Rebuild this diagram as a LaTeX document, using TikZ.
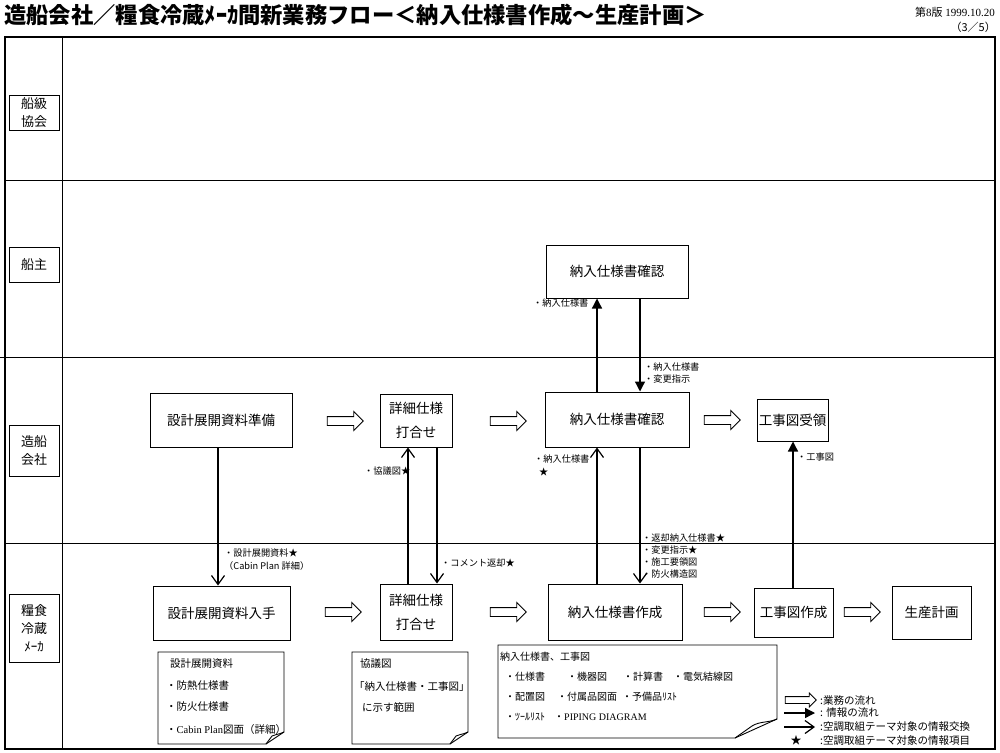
\documentclass[tikz,border=0pt]{standalone}
\usepackage{fontspec}
\setmainfont{Liberation Serif}
\newfontfamily\cjk{Noto Sans CJK JP}
\usetikzlibrary{arrows.meta,shapes.arrows,calc}
\tikzset{
  proc/.style={draw, line width=1pt, align=center, inner sep=0pt, font=\cjk\fontsize{13.5}{24}\selectfont},
  lanebox/.style={draw, line width=0.9pt, align=center, inner sep=0pt, minimum width=50pt, font=\cjk\fontsize{13}{18}\selectfont},
  flowarrow/.style={single arrow, draw, line width=0.9pt, inner xsep=0pt, inner ysep=4pt, minimum height=36pt, single arrow head extend=5pt, single arrow head indent=0pt},
  infoF/.style={line width=1.3pt, -{Triangle[length=10pt,width=10pt]}},
  infoV/.style={line width=1.2pt, -{Straight Barb[length=9pt,width=13pt,line width=1.2pt]}},
  lbl/.style={anchor=west, inner sep=0pt, font=\cjk\fontsize{9.2}{10}\selectfont},
  notetxt/.style={anchor=west, inner sep=0pt, font=\cjk\fontsize{10.5}{12}\selectfont},
  notetxtb/.style={anchor=west, inner sep=0pt, font=\cjk\fontsize{10}{12}\selectfont},
  legtxt/.style={anchor=west, inner sep=0pt, font=\cjk\fontsize{10.5}{12}\selectfont},
  notebox/.style={line width=0.9pt}
}
\begin{document}
\begin{tikzpicture}[x=1pt,y=-1pt]
\useasboundingbox (0,0) rectangle (1000,752);
% title
\node[anchor=west, inner sep=0pt, font=\cjk\bfseries\fontsize{22.3}{24}\selectfont] (title) at (4,15) {造船会社／糧食冷蔵ﾒｰｶ間新業務フロー＜納入仕様書作成～生産計画＞};
\node[anchor=east, inner sep=0pt, font=\fontsize{11}{12}\selectfont] (ver) at (995,12) {{\cjk 第}8{\cjk 版} 1999.10.20};
\node[anchor=east, inner sep=0pt, font=\cjk\fontsize{11}{12}\selectfont] (page) at (996,27) {（3／5）};
% frame and lanes
\draw[line width=1.2pt] (5,37) rectangle (995,749);
\draw[line width=1pt] (62,37) -- (62,749);
\draw[line width=1pt] (5,180) -- (995,180);
\draw[line width=1pt] (0,357) -- (995,357);
\draw[line width=1pt] (5,543) -- (995,543);
% lane labels
\node[lanebox, minimum height=35pt] (l1) at (34,112.5) {船級\\協会};
\node[lanebox, minimum height=35pt] (l2) at (34,264.5) {船主};
\node[lanebox, minimum height=51pt] (l3) at (34,450.5) {造船\\会社};
\node[lanebox, minimum height=68pt] (l4) at (34,628) {糧食\\冷蔵\\ﾒｰｶ};
% process nodes
\node[proc, minimum width=142pt, minimum height=54pt] (prep) at (221,420) {設計展開資料準備};
\node[proc, minimum width=72pt, minimum height=53pt] (mtgT) at (416,420.5) {詳細仕様\\打合せ};
\node[proc, minimum width=144pt, minimum height=55pt] (chkM) at (617,419.5) {納入仕様書確認};
\node[proc, minimum width=142pt, minimum height=53pt] (chkT) at (617,271.5) {納入仕様書確認};
\node[proc, minimum width=71pt, minimum height=42pt] (recv) at (792.5,420) {工事図受領};
\node[proc, minimum width=137pt, minimum height=54pt] (get) at (221.5,613) {設計展開資料入手};
\node[proc, minimum width=72pt, minimum height=56pt] (mtgB) at (416,612) {詳細仕様\\打合せ};
\node[proc, minimum width=134pt, minimum height=56pt] (make) at (615,612) {納入仕様書作成};
\node[proc, minimum width=79pt, minimum height=49pt] (draw) at (793.5,612.5) {工事図作成};
\node[proc, minimum width=79pt, minimum height=53pt] (plan) at (931.5,612.5) {生産計画};
% work flow arrows
\node[flowarrow] (fa1) at (343,421) {};
\node[flowarrow] (fa2) at (506,421) {};
\node[flowarrow] (fa3) at (720,420) {};
\node[flowarrow] (fb1) at (341,612) {};
\node[flowarrow] (fb2) at (506,612) {};
\node[flowarrow] (fb3) at (720,612) {};
\node[flowarrow] (fb4) at (860,612) {};
% information arrows
\draw[infoV] ([xshift=-3pt]prep.south) -- ([xshift=-3.5pt]get.north);
\draw[infoV] ([xshift=-8pt]mtgB.north) -- ([xshift=-8pt]mtgT.south);
\draw[infoV] ([xshift=21pt]mtgT.south) -- ([xshift=21pt]mtgB.north);
\draw[infoV, line width=2pt] ([xshift=-18pt]make.north) -- ([xshift=-20pt]chkM.south);
\draw[infoV] ([xshift=23pt]chkM.south) -- ([xshift=25pt]make.north);
\draw[infoF] ([xshift=-20pt]chkM.north) -- ([xshift=-20pt]chkT.south);
\draw[infoF] ([xshift=23pt]chkT.south) -- ([xshift=23pt]chkM.north);
\draw[infoF] ([xshift=-0.5pt]draw.north) -- ([xshift=0.5pt]recv.south);
% arrow labels
\node[lbl] (t1) at (224,553) {・設計展開資料★};
\node[lbl] (t2) at (224,566) {（Cabin Plan 詳細）};
\node[lbl] (t3) at (364,471) {・協議図★};
\node[lbl] (t4) at (441,563) {・コメント返却★};
\node[lbl] (t5) at (534,459) {・納入仕様書};
\node[lbl] (t6) at (539,472) {★};
\node[lbl] (t7) at (642,538) {・返却納入仕様書★};
\node[lbl] (t8) at (642,550) {・変更指示★};
\node[lbl] (t9) at (642,562) {・施工要領図};
\node[lbl] (t10) at (642,574) {・防火構造図};
\node[lbl] (t11) at (533,303) {・納入仕様書};
\node[lbl] (t12) at (644,367) {・納入仕様書};
\node[lbl] (t13) at (644,379) {・変更指示};
\node[lbl] (t14) at (797,457) {・工事図};
% notes
\draw[notebox] (158,652) -- (284,652) -- (284,732) -- (266,744) -- (158,744) -- cycle;
\draw[notebox] (284,732) .. controls (278,735) and (275,734) .. (272,736) -- (266,744);
\node[notetxt] (n11) at (170,664) {設計展開資料};
\node[notetxt] (n12) at (166,686) {・防熱仕様書};
\node[notetxt] (n13) at (166,707) {・防火仕様書};
\node[notetxt] (n14) at (166,729) {・{\rmfamily Cabin Plan}図面（詳細）};
\draw[notebox] (352,652) -- (468,652) -- (468,732) -- (450,744) -- (352,744) -- cycle;
\draw[notebox] (468,732) .. controls (462,735) and (459,734) .. (456,736) -- (450,744);
\node[notetxt] (n21) at (360,664) {協議図};
\node[notetxt] (n22) at (354,686) {「納入仕様書・工事図」};
\node[notetxt] (n23) at (362,707) {に示す範囲};
\draw[notebox] (498,645) -- (777,645) -- (777,719) -- (735,738) -- (498,738) -- cycle;
\draw[notebox] (777,719) .. controls (768,723) and (760,721) .. (752,726) -- (735,738);
\node[notetxtb] (n31) at (500,657) {納入仕様書、工事図};
\node[notetxtb] (n32) at (505,677) {・仕様書};
\node[notetxtb] (n33) at (567,677) {・機器図};
\node[notetxtb] (n34) at (623,677) {・計算書};
\node[notetxtb] (n35) at (673,677) {・電気結線図};
\node[notetxtb] (n36) at (505,697) {・配置図};
\node[notetxtb] (n37) at (557,697) {・付属品図面};
\node[notetxtb] (n38) at (622,697) {・予備品ﾘｽﾄ};
\node[notetxtb] (n39) at (505,717) {・ﾂｰﾙﾘｽﾄ};
\node[notetxtb] (n310) at (554,717) {・{\rmfamily PIPING DIAGRAM}};
% legend
\node[flowarrow, minimum height=31pt, inner ysep=3pt, single arrow head extend=3.5pt, line width=0.8pt] (lg1) at (799,700) {};
\coordinate (lg2a) at (784,713);
\coordinate (lg2b) at (815,713);
\draw[infoF] (lg2a) -- (lg2b);
\coordinate (lg3a) at (784,727);
\coordinate (lg3b) at (815,727);
\draw[infoV] (lg3a) -- (lg3b);
\node[inner sep=0pt, font=\cjk\fontsize{11}{12}\selectfont] (lg4) at (796,740) {★};
\node[legtxt] (lt1) at (820,700) {:業務の流れ};
\node[legtxt] (lt2) at (820,713) {: 情報の流れ};
\node[legtxt] (lt3) at (820,727) {:空調取組テーマ対象の情報交換};
\node[legtxt] (lt4) at (820,741) {:空調取組テーマ対象の情報項目};
\end{tikzpicture}
\end{document}
